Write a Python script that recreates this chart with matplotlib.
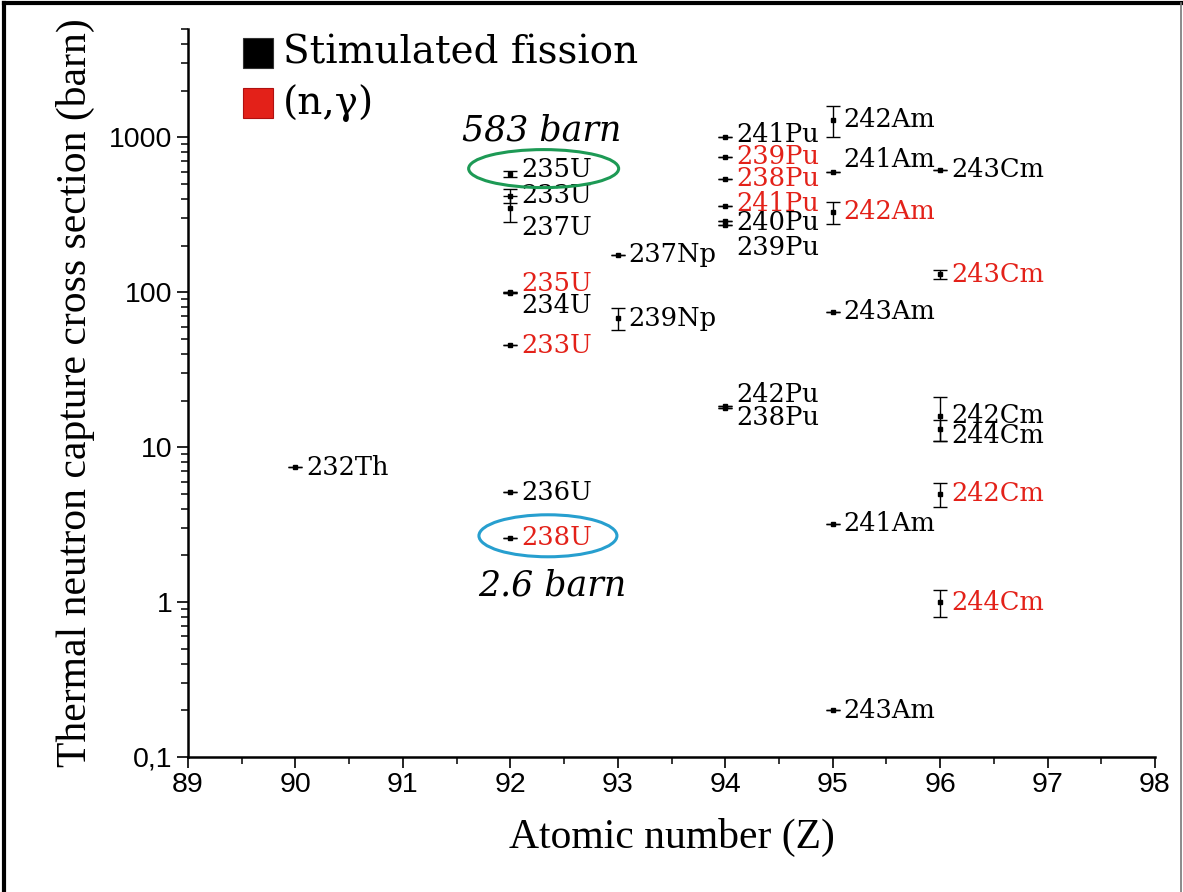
import matplotlib
matplotlib.use("Agg")
import matplotlib.pyplot as plt
from matplotlib.patches import Ellipse, Rectangle
from matplotlib.lines import Line2D
from matplotlib.ticker import FixedLocator, LogLocator, NullFormatter, MultipleLocator

# stimulated fission cross sections (barn)
fission_names = ["232Th", "235U", "233U", "237U", "234U", "236U", "237Np", "239Np",
                 "241Pu", "240Pu", "239Pu", "242Pu", "238Pu",
                 "242Am", "241Am", "243Am", "241Am", "243Am",
                 "243Cm", "242Cm", "244Cm"]
fission_z = [90, 92, 92, 92, 92, 92, 93, 93,
             94, 94, 94, 94, 94,
             95, 95, 95, 95, 95,
             96, 96, 96]
fission_sigma = [7.4, 583, 420, 350, 100, 5.1, 175, 68,
                 1010, 289, 270, 18.5, 17.9,
                 1300, 600, 75, 3.2, 0.2,
                 617, 16, 13]
fission_err = [0, 25, 45, 65, 0, 0, 0, 11,
               0, 0, 0, 0, 0,
               300, 0, 0, 0, 0,
               0, 5, 2]

# (n,gamma) capture cross sections (barn)
capture_names = ["235U", "233U", "238U", "239Pu", "238Pu", "241Pu", "242Am",
                 "243Cm", "242Cm", "244Cm"]
capture_z = [92, 92, 92, 94, 94, 94, 95, 96, 96, 96]
capture_sigma = [99, 45.5, 2.6, 750, 540, 362, 330, 131, 5.0, 1.0]
capture_err = [0, 0, 0, 0, 0, 0, 55, 9, 0.9, 0.2]

# vertical nudges (pixels) for labels that would overlap
fission_dy = [0, 4, 0, -20, -13, 0, 0, 0,
              2, -2, -22, 11, -10,
              0, 12, 0, 0, 0,
              0, 0, -6]
capture_dy = [9, 0, 0, 0, 0, 2, 0, 0, 0, 0]

RED = "#e32119"
W, H = 1183, 892
SERIF = "DejaVu Serif"

fig = plt.figure(figsize=(W / 100, H / 100), dpi=100)
ax = fig.add_axes([188 / W, 1 - 757 / H, (1155 - 188) / W, (757 - 29) / H])
ax.set_xlim(89, 98)
ax.set_yscale("log")
ax.set_ylim(0.1, 5000)

err_kw = dict(fmt="s", color="black", ms=3.4, elinewidth=1.0, capsize=4.8,
              capthick=1.0, zorder=3)
ax.errorbar(fission_z, fission_sigma, yerr=fission_err, **err_kw)
ax.errorbar(capture_z, capture_sigma, yerr=capture_err, **err_kw)

for name, z, s, dy in zip(fission_names, fission_z, fission_sigma, fission_dy):
    ax.annotate(name, (z, s), xytext=(11, dy), textcoords="offset pixels",
                ha="left", va="center", fontsize=18.5, family=SERIF, color="black")

for name, z, s, dy in zip(capture_names, capture_z, capture_sigma, capture_dy):
    ax.annotate(name, (z, s), xytext=(11, dy), textcoords="offset pixels",
                ha="left", va="center", fontsize=18.5, family=SERIF, color=RED)

# highlight U-235 fission and U-238 capture
fig.canvas.draw()
to_axes = ax.transAxes.inverted()
aw = (1155 - 188)
ah = (757 - 29)
cx, cy = to_axes.transform(ax.transData.transform((92.31, 583)))
ax.add_patch(Ellipse((cx, cy + 5 / ah), 150 / aw, 38 / ah, transform=ax.transAxes,
                     fill=False, ec="#1d9a55", lw=2.2, zorder=4))
cx, cy = to_axes.transform(ax.transData.transform((92.35, 2.6)))
ax.add_patch(Ellipse((cx, cy + 2 / ah), 138 / aw, 42 / ah, transform=ax.transAxes,
                     fill=False, ec="#279fcf", lw=2.2, zorder=4))
ax.annotate("583 barn", (92.29, 583), xytext=(0, 26), textcoords="offset pixels",
            ha="center", va="bottom", fontsize=25, family=SERIF, style="italic")
ax.annotate("2.6 barn", (92.39, 2.6), xytext=(0, -31), textcoords="offset pixels",
            ha="center", va="top", fontsize=25, family=SERIF, style="italic")

# axes styling
for side in ("top", "right"):
    ax.spines[side].set_visible(False)
for side in ("left", "bottom"):
    ax.spines[side].set_linewidth(1.8)

ax.xaxis.set_major_locator(FixedLocator(range(89, 99)))
ax.xaxis.set_minor_locator(MultipleLocator(0.5))
ax.yaxis.set_major_locator(FixedLocator([0.1, 1, 10, 100, 1000]))
ax.yaxis.set_minor_locator(LogLocator(base=10, subs=range(2, 10)))
ax.yaxis.set_minor_formatter(NullFormatter())
ax.set_yticklabels(["0,1", "1", "10", "100", "1000"])
ax.tick_params(which="major", length=8, width=1.2, labelsize=20.5, pad=3)
ax.tick_params(which="minor", length=5, width=1.1)
for lab in ax.get_xticklabels() + ax.get_yticklabels():
    lab.set_family("Liberation Sans")

ax.set_xlabel("Atomic number (Z)", fontsize=30, family="Liberation Serif", labelpad=14)
ax.set_ylabel("Thermal neutron capture cross section (barn)", fontsize=30,
              family="Liberation Serif", labelpad=10)

# legend drawn as plain squares and text
for i, (col, txt) in enumerate([("black", "Stimulated fission"), (RED, "(n,\u03b3)")]):
    y0 = 38 + 50 * i
    fig.patches.append(Rectangle((243 / W, 1 - (y0 + 30) / H), 30 / W, 30 / H,
                                 transform=fig.transFigure, fc=col,
                                 ec="#333333" if col == "black" else "#b01010", lw=0.8))
    fig.text(283 / W, 1 - (y0 + 15) / H, txt, ha="left", va="center",
             fontsize=28, family=SERIF)

# outer frame
fig.add_artist(Line2D([0.003, 0.003], [0, 0.997], transform=fig.transFigure,
                      color="black", lw=3))
fig.add_artist(Line2D([0.003, 0.998], [0.997, 0.997], transform=fig.transFigure,
                      color="black", lw=3))
fig.add_artist(Line2D([0.998, 0.998], [0, 0.997], transform=fig.transFigure,
                      color="#777777", lw=1.2))

fig.savefig("out.png", dpi=100)
